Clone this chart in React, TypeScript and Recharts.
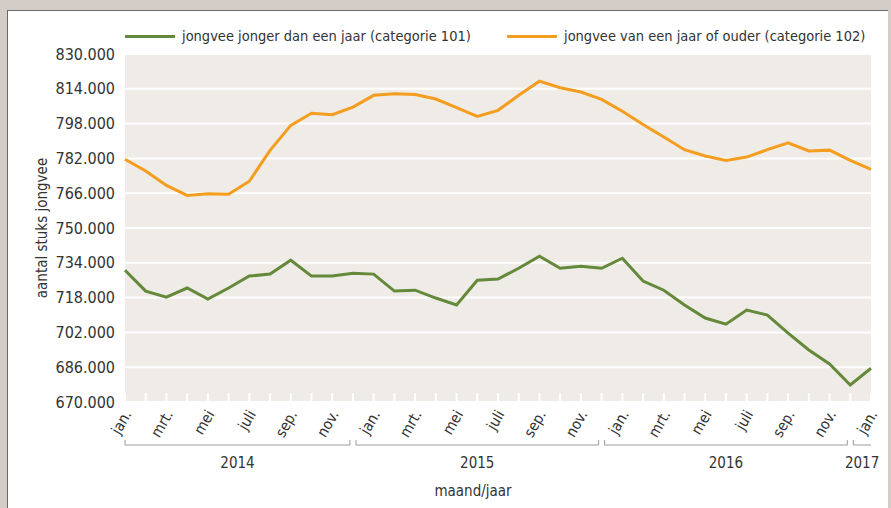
import React from 'react';
import { LineChart, Line, XAxis, YAxis, CartesianGrid } from 'recharts';

const monthNames = ['jan.', 'feb.', 'mrt.', 'apr.', 'mei', 'juni', 'juli', 'aug.', 'sep.', 'okt.', 'nov.', 'dec.'];
const startYear = 2014;
const pointCount = 37;

// values in thousands of animals
const youngStock = [
  730.6, 721.0, 718.2, 722.4, 717.3, 722.4, 727.9, 728.8, 735.2, 727.9, 727.9, 729.2,
  728.8, 721.0, 721.4, 717.8, 714.6, 726.0, 726.5, 731.5, 737.0, 731.5, 732.4, 731.5,
  736.1, 725.6, 721.4, 714.6, 708.6, 705.8, 712.3, 710.0, 701.7, 693.9, 687.5, 677.8,
  685.5,
];
const olderStock = [
  781.6, 776.2, 769.6, 765.0, 765.8, 765.5, 771.5, 785.7, 797.2, 802.8, 802.1, 805.6,
  811.0, 811.7, 811.4, 809.3, 805.3, 801.3, 804.1, 811.0, 817.5, 814.5, 812.5, 809.1,
  803.7, 797.6, 791.8, 786.0, 783.1, 781.0, 782.6, 786.0, 789.2, 785.4, 785.8, 781.1,
  777.0,
];
const yTicks = [670, 686, 702, 718, 734, 750, 766, 782, 798, 814, 830];
const yearGroups = [
  { label: '2014', start: 0, end: 11 },
  { label: '2015', start: 11, end: 23 },
  { label: '2016', start: 23, end: 35 },
  { label: '2017', start: 35, end: 36 },
];

const seriesNames = ['jongvee jonger dan een jaar (categorie 101)', 'jongvee van een jaar of ouder (categorie 102)'];
const yAxisTitle = 'aantal stuks jongvee';
const xAxisTitle = 'maand/jaar';
const GREEN = '#64893a';
const ORANGE = '#f49d1f';
const FONT = '"Liberation Sans Narrow", "DejaVu Sans Condensed", "Liberation Sans", sans-serif';
const TEXT = '#333333';

const data = Array.from({ length: pointCount }, (_, i) => ({
  cat: `${monthNames[i % 12]} ${startYear + Math.floor(i / 12)}`,
  month: monthNames[i % 12],
  young: youngStock[i],
  old: olderStock[i],
}));

const MonthTick = (props: any) => {
  const { x, y, index, payload, width, visibleTicksCount } = props;
  const count = visibleTicksCount || pointCount;
  const step = (width || 746) / (count - 1);
  const idx = payload && payload.index != null ? payload.index : index;
  const month = data[idx] ? data[idx].month : '';
  const group = yearGroups.find((g) => g.start === idx);
  const gap = 3;
  const by = y + 43;
  return (
    <g>
      <line x1={x} x2={x} y1={y - 9} y2={y} stroke="#ffffff" strokeWidth={2} />
      {idx % 2 === 0 && (
        <text
          x={x + 7}
          y={y + 12}
          transform={`rotate(-60, ${x + 7}, ${y + 12})`}
          textAnchor="end"
          fontSize={15}
          fontFamily={FONT}
          fill={TEXT}
        >
          {month}
        </text>
      )}
      {group && (() => {
        const x1 = x + (group.start === 0 ? 0 : gap);
        const x2 = x + (group.end - group.start) * step - (group.end === count - 1 ? 0 : gap);
        return (
          <g>
            <line x1={x1} x2={x2} y1={by} y2={by} stroke="#9a9a9a" strokeWidth={1} />
            <line x1={x1} x2={x1} y1={by - 5} y2={by} stroke="#9a9a9a" strokeWidth={1} />
            {group.end !== count - 1 && (
              <line x1={x2} x2={x2} y1={by - 5} y2={by} stroke="#9a9a9a" strokeWidth={1} />
            )}
            <text x={(x1 + x2) / 2} y={by + 23} textAnchor="middle" fontSize={15} fontFamily={FONT} fill={TEXT}>
              {group.label}
            </text>
          </g>
        );
      })()}
    </g>
  );
};

const YTitle = (props: any) => {
  const vb = props.viewBox || { x: 0, y: 54, width: 125, height: 348 };
  const cx = 42;
  const cy = vb.y + vb.height / 2;
  return (
    <text
      x={cx}
      y={cy}
      transform={`rotate(-90, ${cx}, ${cy})`}
      textAnchor="middle"
      dominantBaseline="central"
      fontSize={15}
      fontFamily={FONT}
      fill={TEXT}
    >
      {yAxisTitle}
    </text>
  );
};

const LegendItem = ({ color, label, left }: { color: string; label: string; left: number }) => (
  <div style={{ position: 'absolute', left, top: 25, display: 'flex', alignItems: 'center', height: 22 }}>
    <div style={{ width: 50, height: 3, background: color, marginRight: 7 }} />
    <span style={{ fontFamily: FONT, fontSize: 14.5, color: TEXT, whiteSpace: 'nowrap' }}>{label}</span>
  </div>
);

export default function App() {
  return (
    <div style={{ position: 'absolute', left: 0, top: 0, width: 891, height: 508, background: '#d4ccc6', overflow: 'hidden' }}>
      <div
        style={{
          position: 'absolute',
          left: 7,
          top: 10,
          width: 880,
          height: 500,
          background: '#ffffff',
          borderLeft: '1px solid #6a6a6a',
          borderTop: '1px solid #6a6a6a',
        }}
      />
      <div style={{ position: 'absolute', left: 0, top: 0 }}>
        <LineChart width={891} height={508} data={data} margin={{ top: 54, right: 20, bottom: 0, left: 0 }}>
          <CartesianGrid vertical={false} horizontal={true} fill="#efebe6" stroke="#ffffff" strokeWidth={2} />
          <XAxis
            dataKey="cat"
            type="category"
            interval={0}
            height={106}
            tickSize={0}
            tickMargin={0}
            tickLine={false}
            axisLine={false}
            tick={<MonthTick />}
            label={{ value: xAxisTitle, position: 'insideBottom', offset: 12, dx: -25, fontSize: 15, fontFamily: FONT, fill: TEXT }}
          />
          <YAxis
            type="number"
            domain={[670, 830]}
            ticks={yTicks}
            width={125}
            tickLine={false}
            axisLine={false}
            tickMargin={4}
            tickFormatter={(v: number) => `${v}.000`}
            tick={{ fontSize: 16, fontFamily: FONT, fill: TEXT }}
            label={<YTitle />}
          />
          <Line type="linear" dataKey="young" name={seriesNames[0]} stroke={GREEN} strokeWidth={3} dot={false} isAnimationActive={false} />
          <Line type="linear" dataKey="old" name={seriesNames[1]} stroke={ORANGE} strokeWidth={3} dot={false} isAnimationActive={false} />
        </LineChart>
      </div>
      <LegendItem color={GREEN} label={seriesNames[0]} left={125} />
      <LegendItem color={ORANGE} label={seriesNames[1]} left={507} />
    </div>
  );
}
